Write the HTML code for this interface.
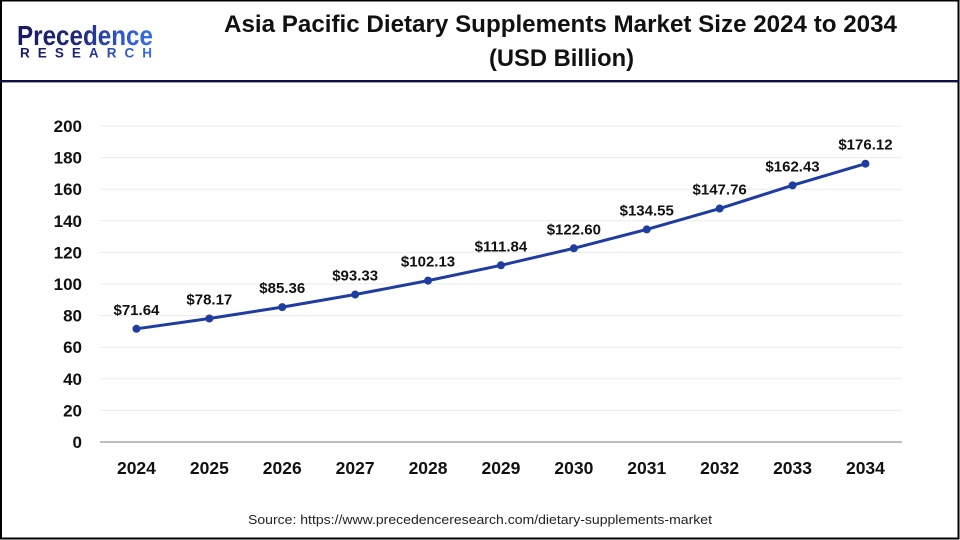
<!DOCTYPE html>
<html>
<head>
<meta charset="utf-8">
<style>
  html, body { margin: 0; padding: 0; background: #fff; }
  body { width: 960px; height: 540px; overflow: hidden; }
  svg { display: block; }
  text { font-family: "Liberation Sans", Arial, sans-serif; }
</style>
</head>
<body>
<svg width="960" height="540" viewBox="0 0 960 540" xmlns="http://www.w3.org/2000/svg">
  <defs>
    <linearGradient id="lg" x1="17" y1="0" x2="155" y2="0" gradientUnits="userSpaceOnUse">
      <stop offset="0" stop-color="#1a1a5c"/>
      <stop offset="0.45" stop-color="#1f2a7a"/>
      <stop offset="0.75" stop-color="#2d55c8"/>
      <stop offset="1" stop-color="#3a72e6"/>
    </linearGradient>
  </defs>
  <rect x="0" y="0" width="960" height="540" fill="#fff"/>
  <!-- outer border -->
  <rect x="1" y="0.5" width="957.5" height="538" fill="none" stroke="#000" stroke-width="2"/>
  <!-- header divider -->
  <rect x="0" y="80" width="959" height="2.4" fill="#0f1040"/>

  <!-- logo -->
  <text x="17" y="45" font-size="28" font-weight="bold" fill="url(#lg)" textLength="136" lengthAdjust="spacingAndGlyphs">Precedence</text>
  <text x="20" y="57.5" font-size="13.5" font-weight="bold" fill="url(#lg)" textLength="132" lengthAdjust="spacing">RESEARCH</text>

  <!-- title -->
  <text x="224" y="32" font-size="24" font-weight="bold" fill="#111" textLength="673" lengthAdjust="spacingAndGlyphs">Asia Pacific Dietary Supplements Market Size 2024 to 2034</text>
  <text x="489" y="66" font-size="24" font-weight="bold" fill="#111" textLength="145" lengthAdjust="spacingAndGlyphs">(USD Billion)</text>

  <!-- gridlines -->
  <g stroke="#ebebeb" stroke-width="1">
    <line x1="100" y1="126" x2="902" y2="126"/>
    <line x1="100" y1="157.6" x2="902" y2="157.6"/>
    <line x1="100" y1="189.2" x2="902" y2="189.2"/>
    <line x1="100" y1="220.8" x2="902" y2="220.8"/>
    <line x1="100" y1="252.4" x2="902" y2="252.4"/>
    <line x1="100" y1="284" x2="902" y2="284"/>
    <line x1="100" y1="315.6" x2="902" y2="315.6"/>
    <line x1="100" y1="347.2" x2="902" y2="347.2"/>
    <line x1="100" y1="378.8" x2="902" y2="378.8"/>
    <line x1="100" y1="410.4" x2="902" y2="410.4"/>
  </g>
  <line x1="100" y1="442" x2="902" y2="442" stroke="#bdbdbd" stroke-width="2"/>

  <!-- y tick labels -->
  <g font-size="17" font-weight="bold" fill="#111" text-anchor="end">
    <text x="82" y="132">200</text>
    <text x="82" y="163.6">180</text>
    <text x="82" y="195.2">160</text>
    <text x="82" y="226.8">140</text>
    <text x="82" y="258.4">120</text>
    <text x="82" y="290">100</text>
    <text x="82" y="321.6">80</text>
    <text x="82" y="353.2">60</text>
    <text x="82" y="384.8">40</text>
    <text x="82" y="416.4">20</text>
    <text x="82" y="448">0</text>
  </g>

  <!-- x tick labels -->
  <g font-size="17.5" font-weight="bold" fill="#111" text-anchor="middle">
    <text x="136.45" y="474">2024</text>
    <text x="209.35" y="474">2025</text>
    <text x="282.25" y="474">2026</text>
    <text x="355.15" y="474">2027</text>
    <text x="428.05" y="474">2028</text>
    <text x="500.95" y="474">2029</text>
    <text x="573.85" y="474">2030</text>
    <text x="646.75" y="474">2031</text>
    <text x="719.65" y="474">2032</text>
    <text x="792.55" y="474">2033</text>
    <text x="865.45" y="474">2034</text>
  </g>

  <!-- series line -->
  <polyline fill="none" stroke="#1f3d9e" stroke-width="3" stroke-linejoin="round"
    points="136.45,328.81 209.35,318.49 282.25,307.13 355.15,294.54 428.05,280.63 500.95,265.29 573.85,248.29 646.75,229.41 719.65,208.54 792.55,185.36 865.45,163.73"/>
  <g fill="#1f3d9e">
    <circle cx="136.45" cy="328.81" r="4"/>
    <circle cx="209.35" cy="318.49" r="4"/>
    <circle cx="282.25" cy="307.13" r="4"/>
    <circle cx="355.15" cy="294.54" r="4"/>
    <circle cx="428.05" cy="280.63" r="4"/>
    <circle cx="500.95" cy="265.29" r="4"/>
    <circle cx="573.85" cy="248.29" r="4"/>
    <circle cx="646.75" cy="229.41" r="4"/>
    <circle cx="719.65" cy="208.54" r="4"/>
    <circle cx="792.55" cy="185.36" r="4"/>
    <circle cx="865.45" cy="163.73" r="4"/>
  </g>

  <!-- data labels -->
  <g font-size="15" font-weight="bold" fill="#111" text-anchor="middle">
    <text x="136.45" y="315">$71.64</text>
    <text x="209.35" y="304.5">$78.17</text>
    <text x="282.25" y="293">$85.36</text>
    <text x="355.15" y="280.5">$93.33</text>
    <text x="428.05" y="266.5">$102.13</text>
    <text x="500.95" y="251.3">$111.84</text>
    <text x="573.85" y="234.3">$122.60</text>
    <text x="646.75" y="215.4">$134.55</text>
    <text x="719.65" y="194.5">$147.76</text>
    <text x="792.55" y="171.4">$162.43</text>
    <text x="865.45" y="149.7">$176.12</text>
  </g>

  <!-- source -->
  <text x="248" y="524" font-size="13" fill="#222" textLength="464" lengthAdjust="spacingAndGlyphs">Source: https://www.precedenceresearch.com/dietary-supplements-market</text>
</svg>
</body>
</html>
